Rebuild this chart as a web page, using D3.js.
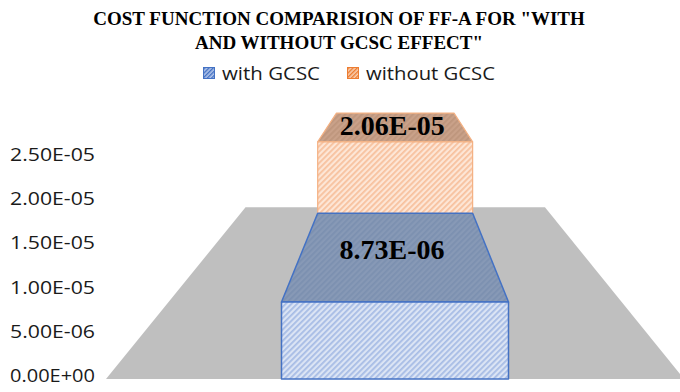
<!DOCTYPE html>
<html>
<head>
<meta charset="utf-8">
<script src="https://cdn.jsdelivr.net/npm/d3@7"></script>
<style>
  body { margin: 0; background: #fff; }
  svg { display: block; }
</style>
</head>
<body>
<svg id="chart" width="680" height="392"></svg>
<script>
// ---- data ----
const categories = ["FF-A"];
const seriesNames = ["with GCSC", "without GCSC"];
const withGCSC = [8.73e-6];
const withoutGCSC = [2.06e-5];
const tickValues = [0, 5e-6, 1e-5, 1.5e-5, 2e-5, 2.5e-5];
const titleLines = ["COST FUNCTION COMPARISION OF FF-A FOR \"WITH", "AND WITHOUT GCSC EFFECT\""];

const seriesValues = [withGCSC, withoutGCSC];

// Excel-style scientific format: 8.73E-06, 0.00E+00
function sci(v) {
  const [m, e] = v.toExponential(2).split("e");
  const n = Math.abs(+e);
  return m + "E" + (+e < 0 ? "-" : "+") + (n < 10 ? "0" + n : n);
}

const svg = d3.select("#chart");
const defs = svg.append("defs");

// hatch patterns: diagonal "/" stripes
function hatch(id, base, stripe, w, sw) {
  const p = defs.append("pattern")
    .attr("id", id)
    .attr("patternUnits", "userSpaceOnUse")
    .attr("width", w).attr("height", w)
    .attr("patternTransform", "rotate(45)");
  p.append("rect").attr("width", w).attr("height", w).attr("fill", base);
  p.append("rect").attr("width", sw).attr("height", w).attr("fill", stripe);
}
hatch("blueFront", "#dbe4f4", "#a7bce5", 4, 1.8);
hatch("blueTop", "#8799b6", "#7c90b0", 4, 1.8);
hatch("orangeFront", "#fde6d6", "#f7c19e", 4, 1.8);
hatch("orangeTop", "#c9a189", "#be967d", 4, 1.8);
hatch("blueKey", "#b4c6ea", "#4472c4", 3, 1.4);
hatch("orangeKey", "#f9cfb2", "#ed7d31", 3, 1.4);

const styles = [
  { front: "url(#blueFront)", top: "url(#blueTop)", side: "#6f86ad", stroke: "#4472c4", sw: 1.5, key: "url(#blueKey)", keyStroke: "#4472c4" },
  { front: "url(#orangeFront)", top: "url(#orangeTop)", side: "#d99b73", stroke: "#f4b183", sw: 1.2, key: "url(#orangeKey)", keyStroke: "#ed7d31" }
];

// ---- scales ----
const yScale = d3.scaleLinear().domain([0, 2.5e-5]).range([379, 158.5]);
const xScale = d3.scaleBand().domain(categories).range([106, 684]).padding(0);
const zScale = d3.scaleBand().domain(seriesNames).range([0, 2]).padding(0);
const columnShare = 227 / 578;   // column width as a share of the category band

// perspective: depth lines run toward a vanishing point above the chart
const VP = { x: 395.5, y: 22.6 };
const DIST = 2.15;
function project(xs, value, z) {
  const k = DIST / (DIST + z);
  return [VP.x + (xs - VP.x) * k, VP.y + (yScale(value) - VP.y) * k];
}
const poly = pts => pts.map(p => p.join(",")).join(" ");

// ---- floor ----
const [fx0, fx1] = xScale.range();
const [fz0, fz1] = zScale.range();
svg.append("polygon")
  .attr("points", poly([
    project(fx0, 0, fz0), project(fx1, 0, fz0),
    project(fx1, 0, fz1), project(fx0, 0, fz1)
  ]))
  .attr("fill", "#bfbfbf");

// ---- columns (back row first) ----
const bars = svg.append("g");
const labels = [];
for (let s = seriesNames.length - 1; s >= 0; s--) {
  categories.forEach((c, ci) => {
    const v = seriesValues[s][ci];
    const mid = xScale(c) + xScale.bandwidth() / 2;
    const half = xScale.bandwidth() * columnShare / 2;
    const xl = mid - half, xr = mid + half;
    const z0 = zScale(seriesNames[s]), z1 = z0 + zScale.bandwidth();
    const st = styles[s];
    const g = bars.append("g");
    // side faces visible only on the side facing the vanishing point
    if (xl > VP.x) {
      g.append("polygon").attr("points", poly([project(xl, 0, z0), project(xl, v, z0), project(xl, v, z1), project(xl, 0, z1)]))
        .attr("fill", st.side).attr("stroke", st.stroke).attr("stroke-width", st.sw);
    }
    if (xr < VP.x) {
      g.append("polygon").attr("points", poly([project(xr, 0, z0), project(xr, v, z0), project(xr, v, z1), project(xr, 0, z1)]))
        .attr("fill", st.side).attr("stroke", st.stroke).attr("stroke-width", st.sw);
    }
    g.append("polygon")
      .attr("points", poly([project(xl, v, z0), project(xr, v, z0), project(xr, v, z1), project(xl, v, z1)]))
      .attr("fill", st.top).attr("stroke", st.stroke).attr("stroke-width", st.sw).attr("stroke-linejoin", "round");
    g.append("polygon")
      .attr("points", poly([project(xl, 0, z0), project(xr, 0, z0), project(xr, v, z0), project(xl, v, z0)]))
      .attr("fill", st.front).attr("stroke", st.stroke).attr("stroke-width", st.sw).attr("stroke-linejoin", "round");
    labels.push({ v, pos: project(mid, v, (z0 + z1) / 2) });
  });
}

// ---- value labels on the column tops ----
svg.append("g").selectAll("text").data(labels).join("text")
  .attr("x", d => d.pos[0] - 3)
  .attr("y", d => d.pos[1])
  .attr("dy", "0.35em")
  .attr("text-anchor", "middle")
  .attr("font-family", "'Liberation Serif', 'Times New Roman', serif")
  .attr("font-weight", "bold")
  .attr("font-size", 28)
  .attr("fill", "#000")
  .text(d => sci(d.v));

// ---- value axis ----
const axis = svg.append("g")
  .attr("transform", "translate(97,-3.5)")
  .call(d3.axisLeft(yScale).tickValues(tickValues).tickFormat(sci).tickSize(0).tickPadding(2));
axis.select(".domain").remove();
axis.selectAll("text")
  .attr("font-family", "'Open Sans', sans-serif")
  .attr("font-size", 18)
  .attr("textLength", 85)
  .attr("lengthAdjust", "spacingAndGlyphs")
  .attr("fill", "#1a1a1a");

// ---- title ----
svg.append("g").selectAll("text").data(titleLines).join("text")
  .attr("x", 339)
  .attr("y", (d, i) => 25 + i * 24)
  .attr("text-anchor", "middle")
  .attr("font-family", "'Liberation Serif', 'Times New Roman', serif")
  .attr("font-weight", "bold")
  .attr("font-size", 19)
  .attr("fill", "#000")
  .text(d => d);

// ---- legend ----
const legend = svg.append("g").attr("transform", "translate(0,73)");
const keyX = [203, 347];
const keyTextWidths = [98, 129];
seriesNames.forEach((name, i) => {
  const g = legend.append("g").attr("transform", `translate(${keyX[i]},0)`);
  g.append("rect").attr("x", 0.5).attr("y", -5.5).attr("width", 11).attr("height", 11)
    .attr("fill", styles[i].key).attr("stroke", styles[i].keyStroke).attr("stroke-width", 1);
  g.append("text").attr("x", 19).attr("y", 0).attr("dy", "0.36em")
    .attr("font-family", "'Open Sans', sans-serif")
    .attr("font-size", 19)
    .attr("textLength", keyTextWidths[i])
    .attr("lengthAdjust", "spacingAndGlyphs")
    .attr("fill", "#1a1a1a")
    .text(name);
});
</script>
</body>
</html>
